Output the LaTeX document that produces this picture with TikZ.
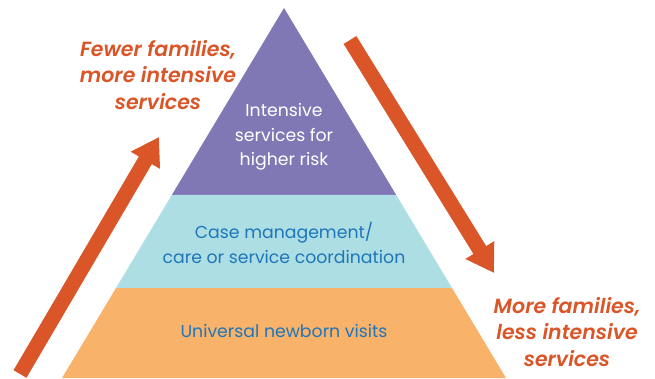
\documentclass[tikz,border=0pt]{standalone}
\usepackage{fontspec}
\setmainfont{Poppins}
\newfontfamily\sidefont{Poppins SemiBold Italic}
\usetikzlibrary{arrows.meta}
\definecolor{purp}{RGB}{128,119,181}
\definecolor{cyanl}{RGB}{173,222,228}
\definecolor{peach}{RGB}{249,178,106}
\definecolor{arrowor}{RGB}{218,85,40}
\definecolor{textblue}{RGB}{30,118,186}
\tikzset{
  bigarrow/.style={draw=arrowor, line width=15pt, -{Triangle[length=27pt,width=32pt]}},
  sidelabel/.style={text=arrowor, font=\fontsize{20.5}{26.5}\selectfont\sidefont, align=center},
  layerlabel/.style={font=\fontsize{17.3}{24.5}\selectfont, align=center}
}
\begin{document}
\begin{tikzpicture}[x=1pt,y=-1pt]
\useasboundingbox (0,0) rectangle (655,379);
% pyramid layers
\fill[purp] (284,8) -- (171.8,195) -- (396.2,195) -- cycle;
\fill[cyanl] (171.8,195) -- (116,288) -- (452,288) -- (396.2,195) -- cycle;
\fill[peach] (116,288) -- (62,378) -- (506,378) -- (452,288) -- cycle;
% labels
\node[layerlabel, text=white] (top) at (284,137) {Intensive\\services for\\higher risk};
\node[layerlabel, text=textblue] (mid) at (284,243) {Case management/\\care or service coordination};
\node[layerlabel, text=textblue] (bot) at (284,331) {Universal newborn visits};
\node[sidelabel] (fewer) at (158,75) {Fewer families,\\more intensive\\services};
\node[sidelabel] (more) at (567,332) {More families,\\less intensive\\services};
% arrows
\coordinate (upstart) at (20,374);
\coordinate (uptip) at (159,137);
\coordinate (downstart) at (350,40);
\coordinate (downtip) at (494,273);
\draw[bigarrow] (upstart) -- (uptip);
\draw[bigarrow] (downstart) -- (downtip);
\end{tikzpicture}
\end{document}
